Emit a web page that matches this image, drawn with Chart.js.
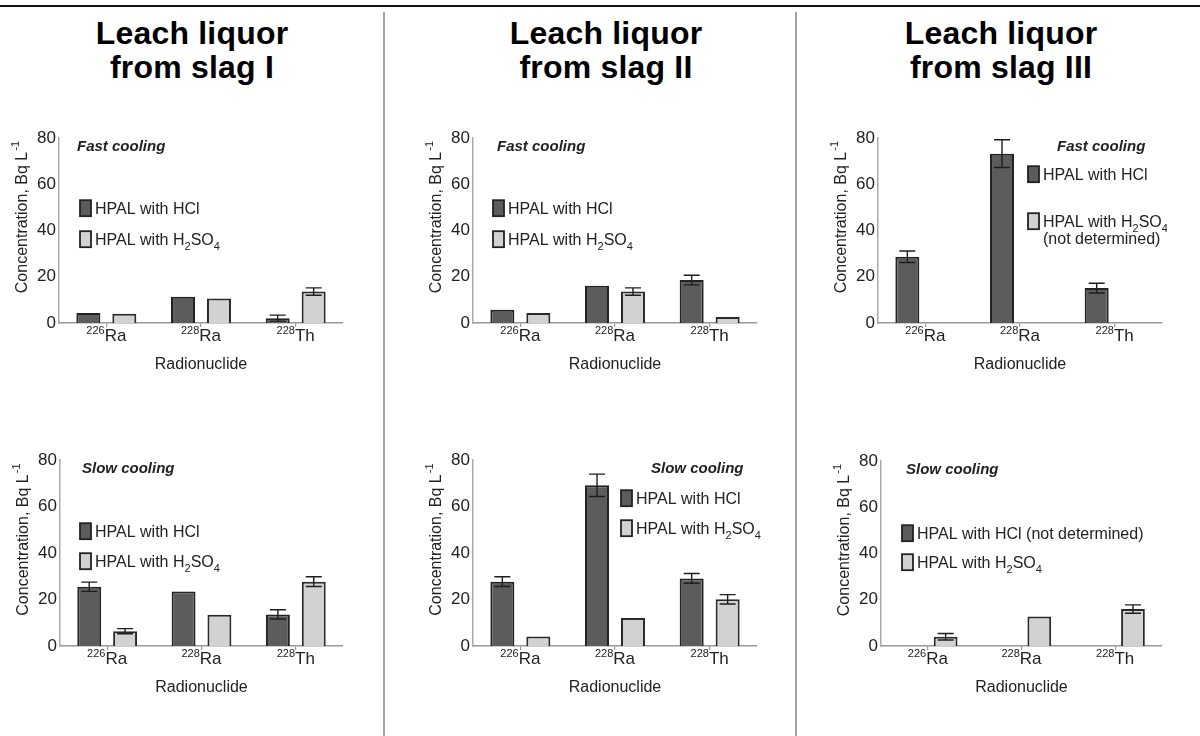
<!DOCTYPE html>
<html>
<head>
<meta charset="utf-8">
<script src="https://cdn.jsdelivr.net/npm/chart.js@4.4.0/dist/chart.umd.min.js"></script>
<style>
body{margin:0;width:1200px;height:736px;background:#fff;position:relative;overflow:hidden;font-family:'Liberation Sans',Arial,sans-serif}
.topline{position:absolute;left:0;top:5px;width:1200px;height:2px;background:#111}
.sep{position:absolute;top:12px;width:2px;height:724px;background:#a4a4a4}
.title{position:absolute;top:16px;width:320px;margin-left:-160px;text-align:center;font-weight:bold;font-size:32px;line-height:34px;letter-spacing:0.2px;color:#000}
canvas{position:absolute}
</style>
</head>
<body>
<div class="topline"></div>
<div class="sep" style="left:383px"></div>
<div class="sep" style="left:795px"></div>
<div class="title" style="left:192px">Leach liquor<br>from slag I</div>
<div class="title" style="left:606px">Leach liquor<br>from slag II</div>
<div class="title" style="left:1001px">Leach liquor<br>from slag III</div>

<script>
// categories (radionuclides)
const categories = ['226Ra', '228Ra', '228Th'];
const massNumbers = ['226', '228', '228'];
const elements = ['Ra', 'Ra', 'Th'];

// Concentration, Bq/L  (null = not determined / no error bar)
const slag1FastHCl = [4.3, 11.4, 2.1];
const slag1FastHClErr = [null, null, 1.3];
const slag1FastH2SO4 = [4.0, 10.6, 13.6];
const slag1FastH2SO4Err = [null, null, 1.6];

const slag1SlowHCl = [25.5, 23.5, 13.6];
const slag1SlowHClErr = [2.0, null, 2.0];
const slag1SlowH2SO4 = [6.4, 13.5, 27.7];
const slag1SlowH2SO4Err = [1.1, null, 2.1];

const slag2FastHCl = [5.7, 16.1, 18.6];
const slag2FastHClErr = [null, null, 2.1];
const slag2FastH2SO4 = [4.3, 13.6, 2.6];
const slag2FastH2SO4Err = [null, 1.6, null];

const slag2SlowHCl = [27.7, 69.2, 29.1];
const slag2SlowHClErr = [2.1, 4.8, 2.1];
const slag2SlowH2SO4 = [4.1, 12.1, 20.1];
const slag2SlowH2SO4Err = [null, null, 2.0];

const slag3FastHCl = [28.7, 73.3, 15.1];
const slag3FastHClErr = [2.5, 6.0, 2.1];
const slag3FastH2SO4 = [null, null, null];
const slag3FastH2SO4Err = [null, null, null];

const slag3SlowHCl = [null, null, null];
const slag3SlowHClErr = [null, null, null];
const slag3SlowH2SO4 = [4.0, 12.8, 16.0];
const slag3SlowH2SO4Err = [1.4, null, 1.8];

const yMin = 0, yMax = 80, yStep = 20;

const FONT = "'Liberation Sans', Arial, Helvetica, sans-serif";
const DARK = '#5c5c5c';
const LIGHT = '#d2d2d2';
const INK = '#222';

// text with "_n" subscripts
function drawRich(ctx, str, x, y) {
    var parts = str.split(/_(\d)/);
    parts.forEach(function (p, k) {
        if (!p) return;
        var sub = k % 2 === 1;
        ctx.font = (sub ? '11px ' : '16px ') + FONT;
        ctx.fillText(p, x, sub ? y + 5 : y);
        x += ctx.measureText(p).width;
    });
}

const decor = {
    id: 'decor',
    afterDatasetsDraw: function (chart) {
        var o = chart.options.plugins.decor;
        var ctx = chart.ctx, area = chart.chartArea;
        var xs = chart.scales.x, ys = chart.scales.y;
        ctx.save();

        // error bars
        ctx.strokeStyle = '#1e1e1e';
        ctx.lineWidth = 1.4;
        chart.data.datasets.forEach(function (ds, i) {
            chart.getDatasetMeta(i).data.forEach(function (bar, j) {
                var v = ds.data[j], e = ds.errors[j];
                if (v == null || e == null) return;
                var yt = ys.getPixelForValue(v + e), yb = ys.getPixelForValue(v - e);
                ctx.beginPath();
                ctx.moveTo(bar.x, yt); ctx.lineTo(bar.x, yb);
                ctx.moveTo(bar.x - 8, yt); ctx.lineTo(bar.x + 8, yt);
                ctx.moveTo(bar.x - 8, yb); ctx.lineTo(bar.x + 8, yb);
                ctx.stroke();
            });
        });

        ctx.fillStyle = INK;
        ctx.textBaseline = 'alphabetic';
        ctx.textAlign = 'left';

        // category labels with superscript mass numbers
        categories.forEach(function (c, i) {
            var cx = xs.getPixelForTick(i);
            ctx.font = '11px ' + FONT;
            var w1 = ctx.measureText(massNumbers[i]).width;
            ctx.font = '17px ' + FONT;
            var w2 = ctx.measureText(elements[i]).width;
            var x0 = cx - (w1 + w2) / 2, by = area.bottom + 18;
            ctx.font = '11px ' + FONT;
            ctx.fillText(massNumbers[i], x0, by - 7);
            ctx.font = '17px ' + FONT;
            ctx.fillText(elements[i], x0 + w1, by);
        });

        // y axis title
        ctx.save();
        ctx.translate(area.left - 36, (area.top + area.bottom) / 2 - 13);
        ctx.rotate(-Math.PI / 2);
        ctx.textBaseline = 'middle';
        ctx.font = '16px ' + FONT;
        var t1 = 'Concentration, Bq L', t2 = '-1';
        var wa = ctx.measureText(t1).width;
        ctx.font = '11px ' + FONT;
        var wb = ctx.measureText(t2).width;
        ctx.font = '16px ' + FONT;
        ctx.fillText(t1, -(wa + wb) / 2, 0);
        ctx.font = '11px ' + FONT;
        ctx.fillText(t2, -(wa + wb) / 2 + wa + 1, -7);
        ctx.restore();

        // cooling label
        ctx.font = 'italic bold 15px ' + FONT;
        ctx.fillText(o.cooling, area.left + o.coolX, area.top + 13);

        // legend
        o.legY.forEach(function (dy, k) {
            var bx = area.left + o.legX, by = area.top + dy;
            ctx.fillStyle = k === 0 ? DARK : LIGHT;
            ctx.fillRect(bx, by, 11, 16);
            ctx.strokeStyle = '#222';
            ctx.lineWidth = 1.8;
            ctx.strokeRect(bx, by, 11, 16);
            ctx.fillStyle = INK;
            drawRich(ctx, o.labels[k], bx + 15, by + 14);
            if (o.extra && o.extra[k]) {
                ctx.font = '16px ' + FONT;
                ctx.fillText(o.extra[k], bx + 15, by + 31);
            }
        });
        ctx.restore();
    }
};

const LBL_HCL = 'HPAL with HCl';
const LBL_H2SO4 = 'HPAL with H_2SO_4';

const panels = [
    { left: 9, top: 125, w: 339, h: 253, hcl: slag1FastHCl, hclErr: slag1FastHClErr, h2so4: slag1FastH2SO4, h2so4Err: slag1FastH2SO4Err,
      decor: { cooling: 'Fast cooling', coolX: 18, legX: 21, legY: [62, 93], labels: [LBL_HCL, LBL_H2SO4] } },
    { left: 10, top: 447, w: 338, h: 254, hcl: slag1SlowHCl, hclErr: slag1SlowHClErr, h2so4: slag1SlowH2SO4, h2so4Err: slag1SlowH2SO4Err,
      decor: { cooling: 'Slow cooling', coolX: 22, legX: 20, legY: [63, 93], labels: [LBL_HCL, LBL_H2SO4] } },
    { left: 423, top: 125, w: 339, h: 253, hcl: slag2FastHCl, hclErr: slag2FastHClErr, h2so4: slag2FastH2SO4, h2so4Err: slag2FastH2SO4Err,
      decor: { cooling: 'Fast cooling', coolX: 24, legX: 20, legY: [62, 93], labels: [LBL_HCL, LBL_H2SO4] } },
    { left: 423, top: 447, w: 339, h: 254, hcl: slag2SlowHCl, hclErr: slag2SlowHClErr, h2so4: slag2SlowH2SO4, h2so4Err: slag2SlowH2SO4Err,
      decor: { cooling: 'Slow cooling', coolX: 178, legX: 148, legY: [30, 60], labels: [LBL_HCL, LBL_H2SO4] } },
    { left: 828, top: 125, w: 339, h: 253, hcl: slag3FastHCl, hclErr: slag3FastHClErr, h2so4: slag3FastH2SO4, h2so4Err: slag3FastH2SO4Err,
      decor: { cooling: 'Fast cooling', coolX: 179, legX: 150, legY: [28, 75], labels: [LBL_HCL, LBL_H2SO4], extra: [null, '(not determined)'] } },
    { left: 831, top: 448, w: 336, h: 253, hcl: slag3SlowHCl, hclErr: slag3SlowHClErr, h2so4: slag3SlowH2SO4, h2so4Err: slag3SlowH2SO4Err,
      decor: { cooling: 'Slow cooling', coolX: 25, legX: 21, legY: [64, 93], labels: [LBL_HCL + ' (not determined)', LBL_H2SO4] } }
];

function makeChart(p) {
    var c = document.createElement('canvas');
    c.width = p.w; c.height = p.h;
    c.style.left = p.left + 'px'; c.style.top = p.top + 'px';
    c.style.width = p.w + 'px'; c.style.height = p.h + 'px';
    document.body.appendChild(c);
    new Chart(c, {
        type: 'bar',
        data: {
            labels: categories,
            datasets: [
                { label: 'HPAL with HCl', data: p.hcl, errors: p.hclErr, backgroundColor: DARK, borderColor: '#222', borderWidth: 2 },
                { label: 'HPAL with H2SO4', data: p.h2so4, errors: p.h2so4Err, backgroundColor: LIGHT, borderColor: '#2a2a2a', borderWidth: 2 }
            ]
        },
        options: {
            responsive: false,
            animation: false,
            devicePixelRatio: 1,
            layout: { padding: { top: 10, right: 5, left: 0, bottom: 0 } },
            datasets: { bar: { categoryPercentage: 0.76, barPercentage: 0.667 } },
            plugins: { legend: { display: false }, tooltip: { enabled: false }, decor: p.decor },
            scales: {
                x: {
                    ticks: { display: false },
                    grid: { display: true, drawOnChartArea: false, offset: false, tickLength: 4, color: '#999', lineWidth: 1.2 },
                    border: { display: true, color: '#999', width: 1.5 },
                    title: { display: true, text: 'Radionuclide', color: INK, font: { size: 16, family: FONT }, padding: { top: 0, bottom: 4 } },
                    afterFit: function (s) { s.height = 55; }
                },
                y: {
                    min: yMin, max: yMax,
                    ticks: { stepSize: yStep, color: INK, font: { size: 17, family: FONT }, padding: 3 },
                    grid: { display: false, drawTicks: false },
                    border: { display: true, color: '#aaa', width: 1.5 },
                    afterFit: function (s) { s.width = 50; }
                }
            }
        },
        plugins: [decor]
    });
}

panels.forEach(makeChart);
</script>
</body>
</html>
